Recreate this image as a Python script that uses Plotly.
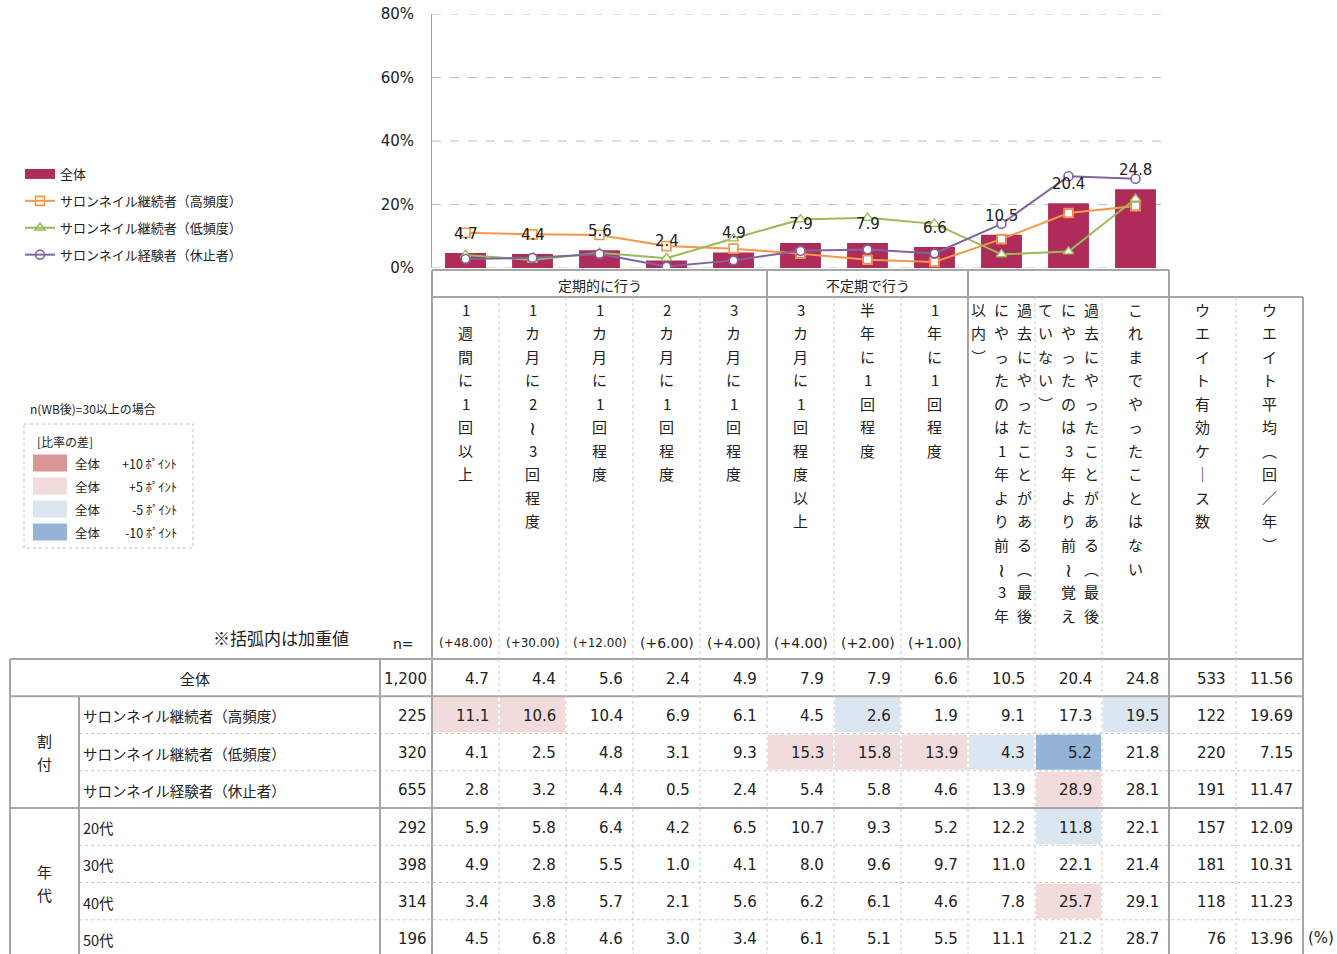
import plotly.graph_objects as go

W, H = 1337, 954

# ---------------- data ----------------
categories = [
    "1週間に1回以上",
    "1カ月に2～3回程度",
    "1カ月に1回程度",
    "2カ月に1回程度",
    "3カ月に1回程度",
    "3カ月に1回程度以上",
    "半年に1回程度",
    "1年に1回程度",
    "過去にやったことがある（最後にやったのは1年より前～3年以内）",
    "過去にやったことがある（最後にやったのは3年より前～覚えていない）",
    "これまでやったことはない",
]
extra_headers = ["ウエイト有効ケース数", "ウエイト平均（回／年）"]
weights = [48, 30, 12, 6, 4, 4, 2, 1]

overall = [4.7, 4.4, 5.6, 2.4, 4.9, 7.9, 7.9, 6.6, 10.5, 20.4, 24.8]
high_freq = [11.1, 10.6, 10.4, 6.9, 6.1, 4.5, 2.6, 1.9, 9.1, 17.3, 19.5]
low_freq = [4.1, 2.5, 4.8, 3.1, 9.3, 15.3, 15.8, 13.9, 4.3, 5.2, 21.8]
paused = [2.8, 3.2, 4.4, 0.5, 2.4, 5.4, 5.8, 4.6, 13.9, 28.9, 28.1]
age20 = [5.9, 5.8, 6.4, 4.2, 6.5, 10.7, 9.3, 5.2, 12.2, 11.8, 22.1]
age30 = [4.9, 2.8, 5.5, 1.0, 4.1, 8.0, 9.6, 9.7, 11.0, 22.1, 21.4]
age40 = [3.4, 3.8, 5.7, 2.1, 5.6, 6.2, 6.1, 4.6, 7.8, 25.7, 29.1]
age50 = [4.5, 6.8, 4.6, 3.0, 3.4, 6.1, 5.1, 5.5, 11.1, 21.2, 28.7]

row_labels = ["全体", "サロンネイル継続者（高頻度）", "サロンネイル継続者（低頻度）",
              "サロンネイル経験者（休止者）", "20代", "30代", "40代", "50代"]
row_n = [1200, 225, 320, 655, 292, 398, 314, 196]
row_values = [overall, high_freq, low_freq, paused, age20, age30, age40, age50]
eff_n = [533, 122, 220, 191, 157, 181, 118, 76]
avg_times = [11.56, 19.69, 7.15, 11.47, 12.09, 10.31, 11.23, 13.96]

top_groups = [("定期的に行う", 0, 5), ("不定期で行う", 5, 8), ("", 8, 11)]
side_groups = [("割付", 1, 4), ("年代", 4, 8)]

series_names = ["サロンネイル継続者（高頻度）", "サロンネイル継続者（低頻度）", "サロンネイル経験者（休止者）"]
series_values = [high_freq, low_freq, paused]
series_colors = ["#f79646", "#9bbb59", "#8064a2"]
series_symbols = ["square-open", "triangle-up-open", "circle-open"]
bar_color = "#ae2b5a"

y_ticks = [0, 20, 40, 60, 80]
diff_labels = ["+10 ﾎﾟｲﾝﾄ", "+5 ﾎﾟｲﾝﾄ", "-5 ﾎﾟｲﾝﾄ", "-10 ﾎﾟｲﾝﾄ"]
diff_colors = ["#da9694", "#f2dcdb", "#dce6f1", "#95b3d7"]

# ---------------- layout constants (pixels) ----------------
COL_L = 432
COL_W = 67
N_DATA = len(categories)
N_COLS = N_DATA + len(extra_headers)
PLOT_TOP, PLOT_BOTTOM = 14, 268
GROUP_TOP, HEAD_TOP, BODY_TOP = 270, 297, 659
ROW_H = 37.25
X_LEFT, X_SIDE, X_NCOL = 10, 79, 380
CHAR_Y0, CHAR_DY, LINE_DX, MAX_CHARS = 309, 23.55, 23, 14

JP = "Meiryo, 'Noto Sans CJK JP', sans-serif"
NUM = "Verdana, 'DejaVu Sans', 'Noto Sans CJK JP', sans-serif"
TXT = "#222222"
GRID = "#bfbfbf"
SOLID = dict(color="#a6a6a6", width=2)
DOTTED = dict(color="#c8c8c8", width=1, dash="dot")

fig = go.Figure()

# ---------------- chart ----------------
xs = list(range(N_DATA))
fig.add_trace(go.Bar(x=xs, y=overall, marker=dict(color=bar_color, line=dict(width=0)),
                     width=0.61, showlegend=False, hoverinfo="skip"))
# legend swatch for the bar series
fig.add_trace(go.Scatter(x=[None], y=[None], mode="lines", name="全体",
                         line=dict(color=bar_color, width=10), legendgroup="g0"))
for i, (name, vals, col, sym) in enumerate(zip(series_names, series_values, series_colors, series_symbols)):
    fig.add_trace(go.Scatter(
        x=xs, y=vals, mode="lines+markers", name=name, legendgroup=f"g{i+1}",
        line=dict(color=col, width=2),
        marker=dict(symbol=sym, size=9, color=col, line=dict(width=1.6, color=col)),
        hoverinfo="skip"))
    # white fill inside the hollow markers
    fig.add_trace(go.Scatter(
        x=xs, y=vals, mode="markers", showlegend=False, hoverinfo="skip",
        marker=dict(symbol=sym.replace("-open", ""), size=7, color="white")))

annotations = []
for i, v in enumerate(overall):
    annotations.append(dict(x=i, y=v, xref="x", yref="y", text=f"{v:.1f}", showarrow=False,
                            yanchor="middle", yshift=19, font=dict(family=NUM, size=15, color=TXT)))

# ---------------- table helpers ----------------
shapes = []

# dashed gridlines of the value axis
for t in y_ticks:
    shapes.append(dict(type="line", xref="x domain", yref="y", x0=0, x1=0.998, y0=t, y1=t,
                       layer="below", line=dict(color=GRID, width=1, dash="dash")))


def hline(y, x0, x1, style):
    shapes.append(dict(type="line", xref="x2", yref="y2", x0=x0, x1=x1, y0=y, y1=y, line=style))


def vline(x, y0, y1, style):
    shapes.append(dict(type="line", xref="x2", yref="y2", x0=x, x1=x, y0=y0, y1=y1, line=style))


def label(x, y, s, size=15, anchor="center", family=JP, color=TXT):
    annotations.append(dict(x=x, y=y, xref="x2", yref="y2", text=s, showarrow=False,
                            xanchor=anchor, yanchor="middle",
                            font=dict(family=family, size=size, color=color)))


VERT = {"（": "︵", "）": "︶", "～": "≀", "ー": "｜"}


def vertical_text(cx, s, size=15):
    chars = [VERT.get(c, c) for c in s]
    lines = [chars[k:k + MAX_CHARS] for k in range(0, len(chars), MAX_CHARS)]
    n = len(lines)
    for j, line in enumerate(lines):
        x = cx + (n - 1) / 2 * LINE_DX - j * LINE_DX
        for k, c in enumerate(line):
            label(x, CHAR_Y0 + k * CHAR_DY, c, size=19 if c == "≀" else size)


col_x = [COL_L + i * COL_W for i in range(N_COLS + 1)]
row_y = [BODY_TOP + r * ROW_H for r in range(len(row_labels) + 1)]
TABLE_BOTTOM = row_y[-1]

# group header row
hline(GROUP_TOP, col_x[0], col_x[N_DATA], SOLID)
for text, a, b in top_groups:
    vline(col_x[a], GROUP_TOP, HEAD_TOP, SOLID)
    if text:
        label((col_x[a] + col_x[b]) / 2, (GROUP_TOP + HEAD_TOP) / 2 + 1, text, size=14)
vline(col_x[N_DATA], GROUP_TOP, HEAD_TOP, SOLID)

# column headers
group_starts = {a for _, a, _ in top_groups}
hline(HEAD_TOP, col_x[0], col_x[-1], SOLID)
for i in range(N_COLS + 1):
    if i == 0 or i in group_starts or i >= N_DATA and i != N_DATA + 1:
        vline(col_x[i], HEAD_TOP, BODY_TOP, SOLID)
    else:
        vline(col_x[i], HEAD_TOP, BODY_TOP, DOTTED)
for i, s in enumerate(categories + extra_headers):
    vertical_text(col_x[i] + COL_W / 2, s)
for i, w in enumerate(weights):
    label(col_x[i] + COL_W / 2, 643, f"(+{w:.2f})", size=12 if w >= 10 else 14, family=NUM)
label(416, 644, "n=", size=14, anchor="right", family=NUM)
label(281, 637, "※括弧内は加重値", size=17)

# body grid
for r, y in enumerate(row_y):
    if r in (0, 1, 4, len(row_labels)):
        hline(y, X_LEFT, col_x[-1], SOLID)
    else:
        hline(y, X_SIDE, col_x[-1], DOTTED)
for x in (X_LEFT, X_NCOL, col_x[0], col_x[N_DATA], col_x[-1]):
    vline(x, BODY_TOP, TABLE_BOTTOM, SOLID)
vline(X_SIDE, row_y[1], TABLE_BOTTOM, SOLID)
for i in list(range(1, N_DATA)) + [N_DATA + 1]:
    vline(col_x[i], BODY_TOP, TABLE_BOTTOM, DOTTED)

# highlighted cells (difference from the overall row)
for r in range(1, len(row_labels)):
    for i, v in enumerate(row_values[r]):
        d = v - overall[i]
        fill = None
        if d >= 10:
            fill = diff_colors[0]
        elif d >= 5:
            fill = diff_colors[1]
        elif d <= -10:
            fill = diff_colors[3]
        elif d <= -5:
            fill = diff_colors[2]
        if fill:
            shapes.insert(0, dict(type="rect", xref="x2", yref="y2", layer="below",
                                  x0=col_x[i] + 1, x1=col_x[i + 1] - 1,
                                  y0=row_y[r] + 1, y1=row_y[r + 1] - 1,
                                  fillcolor=fill, line=dict(width=0)))

# body text
for r, name in enumerate(row_labels):
    cy = (row_y[r] + row_y[r + 1]) / 2 + 1
    if r == 0:
        label((X_LEFT + X_NCOL) / 2, cy, name, size=15)
    else:
        label(X_SIDE + 2, cy, name, size=14.5, anchor="left")
    label(col_x[0] - 3, cy, f"{row_n[r]:,}", anchor="right", family=NUM)
    for i, v in enumerate(row_values[r]):
        label(col_x[i + 1] - 8, cy, f"{v:.1f}", anchor="right", family=NUM)
    label(col_x[N_DATA + 1] - 8, cy, f"{eff_n[r]}", anchor="right", family=NUM)
    label(col_x[N_DATA + 2] - 8, cy, f"{avg_times[r]:.2f}", anchor="right", family=NUM)
for text, a, b in side_groups:
    cy = (row_y[a] + row_y[b]) / 2
    for k, c in enumerate(text):
        label((X_LEFT + X_SIDE) / 2, cy + (k - (len(text) - 1) / 2) * 23, c, size=15)
label(W - 1, row_y[-2] + ROW_H / 2, "(%)", anchor="right", family=NUM)

# colour key
label(28, 408, "n(WB後)=30以上の場合", size=12, anchor="left")
shapes.append(dict(type="rect", xref="x2", yref="y2", x0=24, x1=193, y0=424, y1=548,
                   line=dict(color="#c0c0c0", width=1, dash="dot")))
label(35, 441, "[比率の差]", size=12, anchor="left")
for k, (txt, colr) in enumerate(zip(diff_labels, diff_colors)):
    cy = 463 + k * 23
    shapes.append(dict(type="rect", xref="x2", yref="y2", x0=33, x1=67, y0=cy - 8.5, y1=cy + 8.5,
                       fillcolor=colr, line=dict(width=0)))
    label(73, cy, "全体", size=12.5, anchor="left")
    label(179, cy, txt, size=12.5, anchor="right")

fig.update_layout(
    width=W, height=H,
    margin=dict(l=0, r=0, t=0, b=0, autoexpand=False),
    paper_bgcolor="white", plot_bgcolor="rgba(0,0,0,0)",
    xaxis=dict(domain=[COL_L / W, col_x[N_DATA] / W], range=[-0.5, N_DATA - 0.5],
               showticklabels=False, showgrid=False, zeroline=False, showline=False, ticks=""),
    yaxis=dict(domain=[1 - PLOT_BOTTOM / H, 1 - PLOT_TOP / H], range=[0, 80],
               tickmode="array", tickvals=y_ticks, ticktext=[f"{t}%" for t in y_ticks],
               showgrid=False, zeroline=False, showline=True, linecolor="#a6a6a6", linewidth=1,
               ticks="", ticklabelstandoff=14,
               tickfont=dict(family=NUM, size=15, color=TXT)),
    xaxis2=dict(domain=[0, 1], range=[0, W], visible=False, anchor="y2"),
    yaxis2=dict(domain=[0, 1], range=[H, 0], visible=False, anchor="x2"),
    legend=dict(x=20 / W, y=1 - 159 / H, xanchor="left", yanchor="top",
                traceorder="grouped", tracegroupgap=7, bgcolor="rgba(0,0,0,0)",
                font=dict(family=JP, size=13, color=TXT)),
    shapes=shapes,
    annotations=annotations,
)

# invisible anchor so the second axis pair is rendered
fig.add_trace(go.Scatter(x=[0], y=[0], xaxis="x2", yaxis="y2", mode="markers",
                         marker=dict(opacity=0), showlegend=False, hoverinfo="skip"))

fig.write_html("out.html")
